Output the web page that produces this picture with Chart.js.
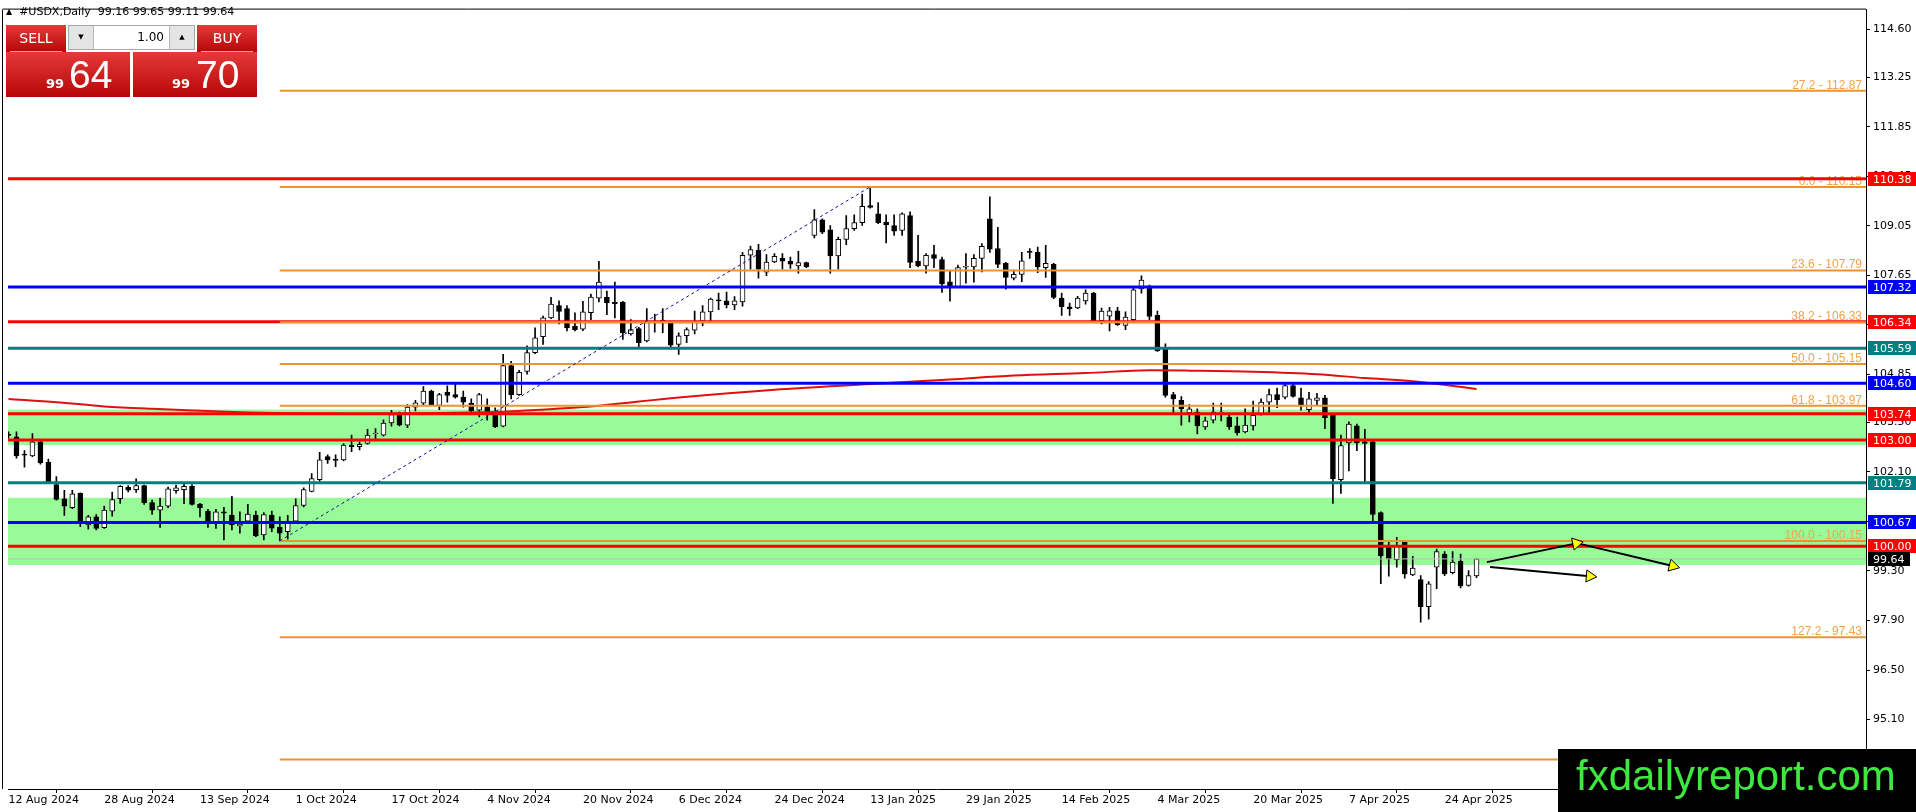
<!DOCTYPE html>
<html>
<head>
<meta charset="utf-8">
<title>#USDX, Daily</title>
<script src="https://cdn.jsdelivr.net/npm/chart.js@4.4.1/dist/chart.umd.min.js"></script>
<style>
  html, body { margin: 0; padding: 0; background: #fff; overflow: hidden; }
  #wrap { position: relative; width: 1916px; height: 812px; }
  #chart { position: absolute; left: 0; top: 0; }
  #hdr { position: absolute; left: 6px; top: 5px; font: 11px "DejaVu Sans", sans-serif; color: #000; white-space: pre; }
  #hdr .tri { font-size: 8px; vertical-align: 1px; }
  .red { position: absolute; background: linear-gradient(#e43a3a, #b80606); color: #fff; }
  .lbl { font: 14px "DejaVu Sans", sans-serif; text-align: center; line-height: 27px; }
  .sep { position: absolute; left: 4px; right: 4px; bottom: 0; height: 1px; background: #f49a9a; }
  .small { position: absolute; font: bold 13px "DejaVu Sans", sans-serif; line-height: 13px; }
  .big { position: absolute; font: 39px "Liberation Sans", sans-serif; line-height: 39px; }
  #lot { position: absolute; left: 68px; top: 25px; width: 125px; height: 23px; background: #fff; border: 1px solid #a8a8a8; font: 12px "DejaVu Sans", sans-serif; }
  #lot .btn { position: absolute; top: 0; width: 24px; height: 23px; background: #e4e4e4; font-size: 7px; text-align: center; line-height: 23px; color: #000; }
  #lot .val { position: absolute; right: 30px; top: 0; line-height: 23px; }
  #wm { position: absolute; left: 1558px; top: 749px; width: 358px; height: 63px; background: #000; }
  #wm span { position: absolute; left: 18px; top: -1px; font: 42px "Liberation Sans", sans-serif; line-height: 56px; color: #3ee83e; }
</style>
</head>
<body>
<div id="wrap">
  <canvas id="chart" width="1916" height="812"></canvas>
  <div id="hdr"><span class="tri">&#9650;</span>  #USDX,Daily  99.16 99.65 99.11 99.64</div>
  <div class="red lbl" style="left:6px;top:25px;width:60px;height:27px;">SELL<div class="sep"></div></div>
  <div class="red lbl" style="left:197px;top:25px;width:60px;height:27px;">BUY<div class="sep"></div></div>
  <div class="red" style="left:6px;top:52px;width:124px;height:45px;">
    <span class="small" style="left:40px;top:25px;">99</span><span class="big" style="left:63px;top:3px;">64</span>
  </div>
  <div class="red" style="left:133px;top:52px;width:124px;height:45px;">
    <span class="small" style="left:39px;top:25px;">99</span><span class="big" style="left:63px;top:3px;">70</span>
  </div>
  <div id="lot">
    <div class="btn" style="left:0;border-right:1px solid #b8b8b8;">&#9660;</div>
    <span class="val">1.00</span>
    <div class="btn" style="right:0;border-left:1px solid #b8b8b8;">&#9650;</div>
  </div>
  <div id="wm"><span>fxdailyreport.com</span></div>
</div>
<script>
// daily bars 12 Aug 2024 .. 30 Apr 2025, x = bar index
const open = [
  103.16,103.09,102.60,102.55,102.95,102.37,101.74,101.34,101.09,101.49,
  100.60,100.83,100.52,100.99,101.34,101.66,101.60,101.71,101.23,101.02,
  101.13,101.57,101.60,101.69,101.19,100.99,100.69,100.97,100.88,100.57,
  100.71,100.88,100.32,100.88,100.53,100.41,100.71,101.15,101.55,101.88,
  102.53,102.46,102.44,102.86,102.81,102.90,103.17,103.14,103.48,103.72,
  103.42,103.93,104.04,104.38,103.98,104.35,104.28,104.21,104.04,103.84,
  103.93,103.70,103.39,105.10,104.28,104.94,105.47,105.92,106.45,106.80,
  106.71,106.22,106.13,106.60,107.01,107.04,106.89,106.89,106.00,106.15,
  105.80,106.33,106.38,106.31,105.70,105.95,106.10,106.36,106.62,106.96,
  106.93,106.82,106.90,108.22,108.36,107.74,108.03,108.13,108.05,107.92,
  108.01,108.78,109.22,108.94,108.20,108.67,108.97,109.14,109.62,109.39,
  109.15,109.06,108.92,109.34,108.05,107.92,108.24,108.10,107.47,107.33,
  107.88,107.89,108.13,109.25,108.41,107.99,107.57,107.68,108.32,108.30,
  107.87,107.96,107.01,106.76,106.73,106.93,107.15,106.37,106.50,106.65,
  106.24,106.40,107.27,107.29,106.52,105.56,104.28,104.12,103.77,103.79,
  103.37,103.56,103.76,103.65,103.40,103.23,103.40,103.74,104.07,104.28,
  104.21,104.54,104.19,103.86,104.12,104.19,103.70,101.88,102.92,103.40,
  102.95,102.95,100.95,99.97,99.62,100.11,99.19,99.06,98.29,99.41,
  99.78,99.25,99.57,98.89,99.16
];
const high = [
  103.23,103.23,102.70,103.18,103.00,102.46,101.97,101.58,101.58,101.51,
  100.87,100.89,101.13,101.53,101.71,101.71,101.90,101.73,101.30,101.36,
  101.67,101.73,101.77,101.74,101.21,101.04,101.04,101.10,101.41,100.97,
  101.18,100.99,100.95,100.99,100.83,100.87,101.34,101.65,102.05,102.65,
  102.58,102.58,102.90,103.14,102.95,103.30,103.32,103.57,103.84,103.79,
  104.00,104.12,104.51,104.41,104.32,104.53,104.57,104.38,104.16,104.32,
  104.16,103.91,105.42,105.22,104.97,105.66,106.17,106.50,107.03,106.93,
  106.80,106.59,106.92,107.12,108.05,107.21,107.46,106.92,106.40,106.18,
  106.71,106.56,106.71,106.36,106.03,106.17,106.64,106.80,107.01,107.15,
  107.18,107.05,108.30,108.48,108.53,108.24,108.27,108.27,108.17,108.33,
  108.03,109.51,109.25,109.06,108.73,109.34,109.36,109.95,110.15,109.71,
  109.36,109.36,109.42,109.45,108.78,108.27,108.50,108.17,107.77,107.94,
  108.27,108.24,108.55,109.87,109.01,108.02,107.80,108.30,108.41,108.45,
  108.50,107.99,107.15,106.87,107.06,107.24,107.17,106.73,106.75,106.75,
  106.62,107.29,107.64,107.38,106.64,105.72,104.35,104.23,104.00,103.88,
  103.65,104.04,104.04,103.70,103.65,103.88,104.10,104.16,104.44,104.47,
  104.63,104.63,104.47,104.35,104.32,104.26,103.74,103.14,103.51,103.45,
  103.30,102.98,100.97,100.11,100.25,100.13,99.71,99.17,99.00,99.92,
  99.85,99.85,99.78,99.31,99.65
];
const low = [
  103.05,102.49,102.23,102.53,102.32,101.80,101.30,100.87,101.06,100.55,
  100.48,100.46,100.50,100.85,101.21,101.53,101.52,101.18,100.90,100.53,
  101.09,101.50,101.20,101.16,100.83,100.53,100.50,100.18,100.46,100.37,
  100.67,100.27,100.18,100.41,100.15,100.20,100.68,101.11,101.53,101.83,
  102.34,102.25,102.41,102.67,102.72,102.88,103.04,103.11,103.39,103.40,
  103.35,103.82,104.00,103.97,103.86,104.07,104.18,103.93,103.79,103.65,
  103.56,103.35,103.37,104.16,104.26,104.86,105.44,105.70,106.43,106.28,
  106.08,106.08,106.09,106.40,106.90,106.54,106.45,105.84,105.96,105.63,
  105.77,106.05,106.03,105.64,105.42,105.75,106.00,106.22,106.37,106.68,
  106.73,106.68,106.78,107.83,107.57,107.64,108.01,107.83,107.85,107.71,
  107.87,108.71,108.83,107.71,107.83,108.52,108.92,109.06,109.55,109.11,
  108.57,108.78,108.78,107.87,107.89,107.71,107.87,107.17,106.92,107.31,
  107.43,107.46,107.75,108.30,107.87,107.26,107.52,107.47,108.13,107.73,
  107.59,106.99,106.52,106.52,106.71,106.84,106.35,106.28,106.08,106.24,
  106.12,106.38,107.15,106.40,105.50,104.21,103.74,103.42,103.51,103.17,
  103.30,103.48,103.54,103.30,103.14,103.20,103.28,103.70,103.76,103.91,
  104.16,104.21,103.84,103.76,104.00,103.32,101.21,101.49,102.13,102.70,
  101.80,100.71,98.94,99.15,99.41,99.10,99.17,97.85,97.94,98.80,
  99.17,99.22,98.82,98.87,99.11
];
const close = [
  103.13,102.55,102.57,102.95,102.35,101.82,101.32,101.13,101.48,100.67,
  100.83,100.50,101.02,101.32,101.69,101.58,101.71,101.23,101.02,101.13,
  101.62,101.65,101.69,101.18,101.08,100.71,100.97,100.93,100.60,100.62,
  100.91,100.29,100.89,100.51,100.37,100.71,101.15,101.60,101.91,102.44,
  102.44,102.42,102.86,102.81,102.88,103.14,103.19,103.48,103.72,103.42,
  103.93,104.05,104.38,104.00,104.28,104.26,104.21,104.07,103.82,104.28,
  103.76,103.37,105.10,104.28,104.91,105.47,105.89,106.45,106.84,106.63,
  106.17,106.12,106.62,107.04,107.46,106.87,106.85,106.03,106.12,105.75,
  106.36,106.35,106.36,105.68,105.94,106.12,106.33,106.62,106.98,106.93,
  106.82,106.93,108.22,108.38,107.83,108.03,108.19,108.05,107.97,108.01,
  107.90,109.22,108.87,108.20,108.67,108.97,109.14,109.60,109.57,109.14,
  109.08,108.90,109.39,108.02,107.92,108.22,108.13,107.41,107.33,107.87,
  107.90,108.13,108.47,108.39,107.96,107.59,107.68,108.06,108.30,107.89,
  107.99,107.03,106.77,106.70,107.01,107.15,106.37,106.64,106.65,106.26,
  106.47,107.24,107.52,106.49,105.52,104.26,104.16,103.88,103.88,103.40,
  103.54,103.79,103.78,103.37,103.20,103.42,103.70,104.07,104.28,104.14,
  104.54,104.23,103.98,104.16,104.19,103.63,101.90,102.84,103.45,102.92,
  102.90,100.90,99.73,99.64,100.01,99.22,99.38,98.29,98.94,99.85,
  99.22,99.55,98.88,99.17,99.64
];

// red moving average, read at a few bars
const maIdx = [0, 6, 12, 18, 25, 30, 37, 44, 50, 58, 62, 66, 72, 84, 96, 108, 118, 126, 135, 143, 148, 156, 164, 170, 176, 184];
const maVal = [104.16, 104.07, 103.95, 103.88, 103.82, 103.78, 103.75, 103.74, 103.75, 103.78, 103.80, 103.85, 103.93, 104.20, 104.42, 104.58, 104.71, 104.82, 104.89, 104.97, 104.96, 104.93, 104.86, 104.75, 104.66, 104.44];

// horizontal levels
const levels = [110.38, 107.32, 106.34, 105.59, 104.60, 103.74, 103.00, 101.79, 100.67, 100.00];
const levelColors = ['#ff0000', '#0000ff', '#ff0000', '#008080', '#0000ff', '#ff0000', '#ff0000', '#008080', '#0000ff', '#ff0000'];
const bidPrice = 99.64;

// fibonacci from swing low (bar 34) to swing high (bar 108)
const fibStart = 34;
const fibEnd = 108;
const fibLow = 100.15;
const fibHigh = 110.15;
const fibNames = ['27.2', '0.0', '23.6', '38.2', '50.0', '61.8', '100.0', '127.2', '161.8'];
const fibLevels = [112.87, 110.15, 107.79, 106.33, 105.15, 103.97, 100.15, 97.43, 93.97];

// green zones
const zoneTop = [103.86, 101.37];
const zoneBottom = [102.86, 99.47];

// arrows [x, price] pairs
const arrowA = [[185.7, 99.41], [198.2, 99.15]];
const arrowB1 = [[185.3, 99.55], [196.5, 100.08]];
const arrowB2 = [[196.7, 100.08], [208.6, 99.44]];
const arrowRot = [95, 78, 104];

// axes
const yTicks = [95.10, 96.50, 97.90, 99.30, 100.70, 102.10, 103.50, 104.85, 106.25, 107.65, 109.05, 110.45, 111.85, 113.25, 114.60];
const tickIdx = [0, 12, 24, 36, 48, 60, 72, 84, 96, 108, 120, 132, 144, 156, 168, 180];
const tickLabels = ['12 Aug 2024', '28 Aug 2024', '13 Sep 2024', '1 Oct 2024', '17 Oct 2024', '4 Nov 2024', '20 Nov 2024', '6 Dec 2024',
  '24 Dec 2024', '13 Jan 2025', '29 Jan 2025', '14 Feb 2025', '4 Mar 2025', '20 Mar 2025', '7 Apr 2025', '24 Apr 2025'];

const AXIS_FONT = { family: '"DejaVu Sans", sans-serif', size: 11 };

function flatLine(v, from, color, width, order) {
  return {
    type: 'line', data: [{ x: from, y: v }, { x: 260, y: v }],
    borderColor: color, borderWidth: width, pointRadius: 0, order: order, clip: 0
  };
}

function arrow(pts, rot) {
  return {
    type: 'line', data: pts.map(p => ({ x: p[0], y: p[1] })),
    borderColor: '#000', borderWidth: 2, order: 1, clip: 0,
    pointRadius: [0, 7], pointStyle: 'triangle', rotation: rot,
    pointBackgroundColor: '#ffff00', pointBorderColor: '#000', pointBorderWidth: 1
  };
}

const datasets = [];
// wicks
datasets.push({
  type: 'bar', data: low.map((l, i) => ({ x: i, y: [l, high[i]] })),
  backgroundColor: '#000', barThickness: 1, grouped: false, order: 20
});
// bodies
datasets.push({
  type: 'bar', data: open.map((o, i) => ({ x: i, y: [o, close[i]] })),
  backgroundColor: open.map((o, i) => close[i] >= o ? '#ffffff' : '#000000'),
  borderColor: '#000', borderWidth: 1, borderSkipped: false,
  barThickness: 5, minBarLength: 1, grouped: false, order: 19
});
// moving average
datasets.push({
  type: 'line', data: maIdx.map((x, k) => ({ x: x, y: maVal[k] })),
  borderColor: '#e01010', borderWidth: 2, pointRadius: 0, cubicInterpolationMode: 'monotone', order: 18, clip: 0
});
levels.forEach((v, k) => datasets.push(flatLine(v, -5, levelColors[k], 3, 16)));
datasets.push(flatLine(bidPrice, -5, '#c0c0c0', 1, 17));
fibLevels.forEach(v => datasets.push(flatLine(v, fibStart, '#ea9432', 2, 15)));
// fib base line (dotted)
datasets.push({
  type: 'line', data: [{ x: fibStart, y: fibLow }, { x: fibEnd, y: fibHigh }],
  borderColor: '#1010a0', borderWidth: 1, borderDash: [3, 3], pointRadius: 0, order: 14, clip: 0
});
datasets.push(arrow(arrowA, arrowRot[0]));
datasets.push(arrow(arrowB1, arrowRot[1]));
datasets.push(arrow(arrowB2, arrowRot[2]));

const overlay = {
  id: 'overlay',
  beforeDatasetsDraw(chart) {
    const { ctx, chartArea: a } = chart;
    const y = chart.scales.y;
    ctx.save();
    ctx.fillStyle = '#98fb98';
    zoneTop.forEach((t, k) => {
      const y1 = y.getPixelForValue(t);
      const y2 = y.getPixelForValue(zoneBottom[k]);
      ctx.fillRect(a.left, y1, a.right - a.left, y2 - y1);
    });
    ctx.font = '12px "Liberation Sans", sans-serif';
    ctx.fillStyle = '#f0a448';
    ctx.textAlign = 'right';
    ctx.textBaseline = 'alphabetic';
    fibLevels.forEach((v, k) => {
      ctx.fillText(fibNames[k] + ' - ' + v.toFixed(2), a.right - 4, y.getPixelForValue(v) - 2);
    });
    ctx.restore();
  },
  afterDraw(chart) {
    const { ctx, chartArea: a } = chart;
    const y = chart.scales.y;
    ctx.save();
    ctx.strokeStyle = '#000';
    ctx.lineWidth = 1;
    ctx.beginPath();
    ctx.moveTo(2.5, a.top);
    ctx.lineTo(2.5, a.bottom);
    ctx.moveTo(2.5, a.top - 0.5);
    ctx.lineTo(a.right, a.top - 0.5);
    ctx.stroke();
    ctx.font = '11px "DejaVu Sans", sans-serif';
    ctx.textAlign = 'left';
    ctx.textBaseline = 'middle';
    const box = (v, bg, w) => {
      const py = Math.round(y.getPixelForValue(v));
      ctx.fillStyle = bg;
      ctx.fillRect(a.right + 2, py - 7, w, 14);
      ctx.fillStyle = '#fff';
      ctx.fillText(v.toFixed(2), a.right + 7, py + 1);
    };
    levels.forEach((v, k) => box(v, levelColors[k], 60));
    box(bidPrice, '#000', 42);
    ctx.restore();
  }
};

new Chart(document.getElementById('chart'), {
  type: 'bar',
  data: { datasets: datasets },
  plugins: [overlay],
  options: {
    responsive: false,
    animation: false,
    devicePixelRatio: 1,
    layout: { padding: { left: 3, top: 2, right: 0, bottom: 0 } },
    plugins: { legend: { display: false }, tooltip: { enabled: false } },
    events: [],
    scales: {
      x: {
        type: 'linear', min: -0.0625, max: 232.8125, offset: false,
        grid: { drawOnChartArea: false, tickLength: 4, color: '#000' },
        border: { color: '#000', width: 1 },
        afterBuildTicks: s => { s.ticks = tickIdx.map(v => ({ value: v })); },
        afterFit: s => { s.height = 23; },
        ticks: {
          autoSkip: false, maxRotation: 0, align: 'start', padding: 1, color: '#000', font: AXIS_FONT,
          callback: (v, i) => tickLabels[i]
        }
      },
      y: {
        position: 'right', min: 93.14, max: 115.16,
        grid: { drawOnChartArea: false, tickLength: 4, color: '#000' },
        border: { color: '#000', width: 1 },
        afterBuildTicks: s => { s.ticks = yTicks.map(v => ({ value: v })); },
        afterFit: s => { s.width = 50; },
        ticks: {
          autoSkip: false, padding: 3, color: '#000', font: AXIS_FONT,
          callback: v => v.toFixed(2)
        }
      }
    }
  }
});
</script>
</body>
</html>
